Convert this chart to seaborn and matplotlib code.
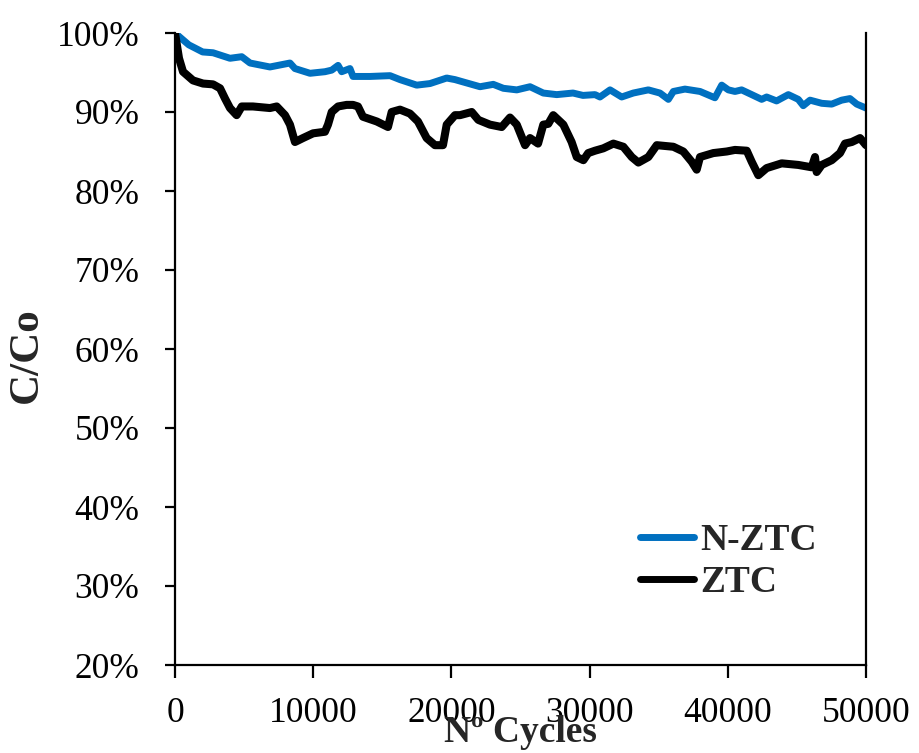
import matplotlib
matplotlib.use("Agg")
import matplotlib.pyplot as plt
import seaborn as sns
import pandas as pd
from matplotlib.ticker import FuncFormatter, MultipleLocator

# Capacity retention (C/Co, %) versus number of cycles
nztc_cycles = [0, 1000, 2000, 2750, 3980, 4830, 5430, 6870, 8320, 8680, 9770,
               10850, 11340, 11800, 12060, 12660, 12880, 14110, 15560, 16280,
               17490, 18450, 19660, 20260, 20860, 22070, 23030, 23760, 24730,
               25690, 26650, 27620, 28800, 29520, 30390, 30750, 31480, 32320,
               33160, 34250, 35090, 35700, 36060, 36900, 37990, 39070, 39560,
               40040, 40520, 41000, 41730, 42450, 42810, 43530, 44380, 45100,
               45460, 45950, 46800, 47520, 48240, 48840, 49330, 50000]
nztc_ratio = [100.0, 98.5, 97.6, 97.5, 96.8, 97.0, 96.2, 95.7, 96.2, 95.5, 94.9,
              95.1, 95.3, 95.9, 95.1, 95.5, 94.5, 94.5, 94.6, 94.1,
              93.4, 93.6, 94.3, 94.1, 93.8, 93.2, 93.5, 93.0, 92.8,
              93.2, 92.4, 92.2, 92.4, 92.1, 92.2, 91.9, 92.8, 91.9,
              92.4, 92.8, 92.4, 91.6, 92.6, 92.9, 92.6, 91.8, 93.4,
              92.8, 92.6, 92.8, 92.2, 91.6, 91.9, 91.4, 92.2, 91.6,
              90.8, 91.5, 91.1, 91.0, 91.5, 91.7, 91.0, 90.5]

ztc_cycles = [0, 290, 580, 1300, 2030, 2750, 3260, 3620, 3980, 4460, 4830,
              5640, 6870, 7360, 7960, 8320, 8680, 9260, 9990, 10850, 11070,
              11340, 11800, 12420, 12880, 13240, 13600, 14600, 15410, 15680,
              16280, 17000, 17580, 18210, 18810, 19390, 19660, 20260, 20620,
              21470, 21950, 22790, 23640, 24240, 24730, 25330, 25690, 26270,
              26650, 27010, 27370, 28100, 28700, 29070, 29550, 29900, 30390,
              30990, 31720, 32440, 33050, 33530, 34250, 34860, 36060, 36780,
              37390, 37750, 37990, 38950, 39920, 40520, 41370, 41730, 42210,
              42810, 43900, 45100, 46070, 46310, 46430, 46800, 47520, 48120,
              48480, 48970, 49570, 50000]
ztc_ratio = [100.0, 96.8, 95.1, 94.0, 93.6, 93.5, 93.0, 91.7, 90.5, 89.6, 90.7,
             90.7, 90.5, 90.7, 89.6, 88.4, 86.2, 86.7, 87.3, 87.5, 88.4,
             90.0, 90.7, 90.9, 90.9, 90.7, 89.4, 88.8, 88.1, 90.0,
             90.3, 89.8, 88.8, 86.7, 85.8, 85.8, 88.4, 89.6, 89.6,
             90.0, 89.0, 88.4, 88.1, 89.3, 88.4, 85.8, 86.7, 86.0,
             88.4, 88.5, 89.6, 88.4, 86.2, 84.3, 83.9, 84.8, 85.1,
             85.4, 86.0, 85.6, 84.3, 83.6, 84.3, 85.8, 85.6, 85.0,
             83.7, 82.7, 84.3, 84.8, 85.0, 85.2, 85.1, 83.7, 82.0,
             82.9, 83.5, 83.3, 83.0, 84.3, 82.4, 83.3, 83.9, 84.8,
             86.0, 86.2, 86.7, 85.8]

series_names = ["N-ZTC", "ZTC"]
series_colors = ["#0070C0", "#000000"]
x_ticks = [0, 10000, 20000, 30000, 40000, 50000]

sns.set_style("white")
plt.rcParams["font.family"] = ["Liberation Serif", "DejaVu Serif"]

df_n = pd.DataFrame({"cycles": nztc_cycles, "ratio": nztc_ratio, "sample": series_names[0]})
df_z = pd.DataFrame({"cycles": ztc_cycles, "ratio": ztc_ratio, "sample": series_names[1]})

fig = plt.figure(figsize=(9.19, 7.53), dpi=100)
ax = fig.add_axes([175 / 919, 1 - 665 / 753, (866 - 175) / 919, (665 - 33) / 753])

sns.lineplot(data=df_n, x="cycles", y="ratio", color=series_colors[0],
             linewidth=5.0, sort=False, ax=ax, label=series_names[0])
sns.lineplot(data=df_z, x="cycles", y="ratio", color=series_colors[1],
             linewidth=5.8, sort=False, ax=ax, label=series_names[1])

ax.set_xlim(0, 50000)
ax.set_ylim(20, 100)
ax.set_xticks(x_ticks)
ax.yaxis.set_major_locator(MultipleLocator(10))
ax.yaxis.set_major_formatter(FuncFormatter(lambda v, _: f"{v:.0f}%"))

for side in ["left", "bottom", "right"]:
    ax.spines[side].set_visible(True)
    ax.spines[side].set_color("black")
    ax.spines[side].set_linewidth(1.6)
ax.spines["top"].set_visible(False)

ax.tick_params(axis="y", which="major", direction="out", length=7.5, width=1.6,
               pad=18, labelsize=25.5, colors="black", left=True, right=False)
ax.tick_params(axis="x", which="major", direction="out", length=9, width=1.6,
               pad=14, labelsize=25.5, colors="black", bottom=True, top=False)

ax.set_xlabel("Nº Cycles", fontsize=27, fontweight="bold")
ax.xaxis.set_label_coords(0.5, -0.1225)
ax.xaxis.label.set_verticalalignment("baseline")

ax.set_ylabel("C/Co", fontsize=31, fontweight="bold")
ax.yaxis.set_label_coords(-0.215, 0.49)
ax.yaxis.label.set_verticalalignment("center")

leg = ax.legend(loc="upper left", bbox_to_anchor=(0.673, 0.225), frameon=False,
                prop={"size": 27, "weight": "bold"}, handlelength=1.45,
                handletextpad=0.15, labelspacing=0.2, borderpad=0,
                borderaxespad=0)
for line in leg.get_lines():
    line.set_linewidth(5.0)

fig.savefig("out.png", dpi=100)
